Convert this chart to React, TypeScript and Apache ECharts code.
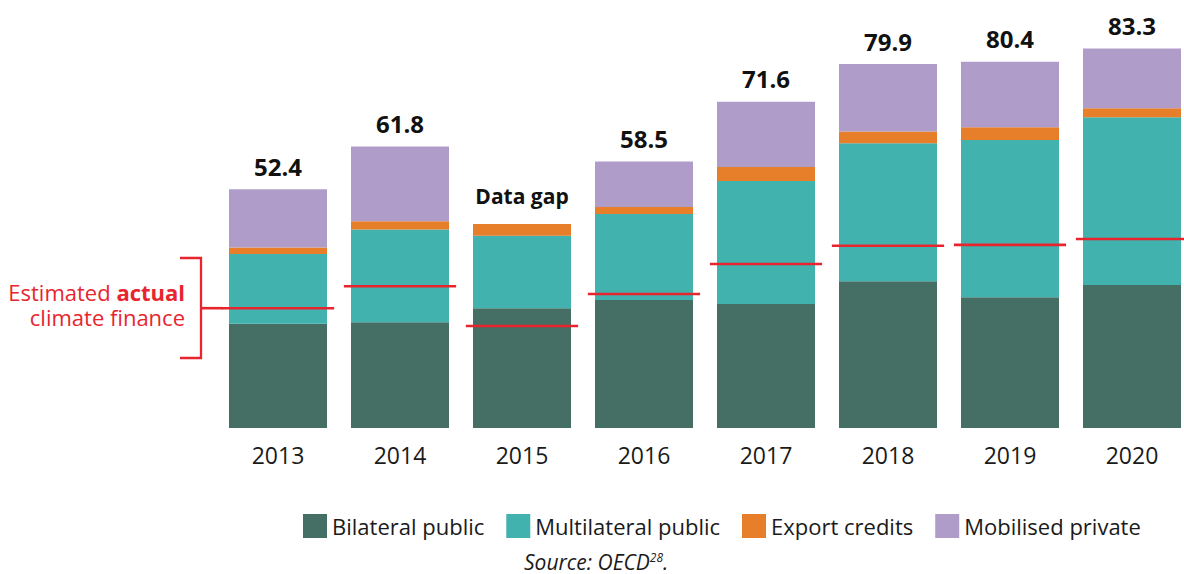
import React, { useEffect, useRef } from "react";
import * as echarts from "echarts";

const categories = ["2013", "2014", "2015", "2016", "2017", "2018", "2019", "2020"];
const bilateralPublic = [22.9, 23.2, 26.3, 28.1, 27.2, 32.2, 28.7, 31.4];
const multilateralPublic = [15.3, 20.4, 15.9, 18.9, 27.0, 30.3, 34.5, 36.8];
const exportCredits = [1.4, 1.8, 2.6, 1.5, 3.1, 2.6, 2.8, 2.0];
const mobilisedPrivate = [12.8, 16.4, null, 10.0, 14.3, 14.8, 14.4, 13.1];
const totals = [52.4, 61.8, null, 58.5, 71.6, 79.9, 80.4, 83.3];
const gapLabel = "Data gap";
const estimatedActual = [26.3, 31.1, 22.4, 29.4, 36.0, 40.0, 40.2, 41.5];

const FONT = "'Open Sans', 'Noto Sans', sans-serif";
const RED = "#e8252f";

export default function App() {
  const ref = useRef<HTMLDivElement>(null);

  useEffect(() => {
    if (!ref.current) return;
    const chart = echarts.init(ref.current, null, { renderer: "svg" });

    const stackTops = categories.map(
      (_, i) =>
        (bilateralPublic[i] || 0) +
        (multilateralPublic[i] || 0) +
        (exportCredits[i] || 0) +
        (mobilisedPrivate[i] || 0)
    );

    const barBase = {
      type: "bar",
      stack: "total",
      barWidth: 98,
      emphasis: { disabled: true },
    };

    chart.setOption({
      animation: false,
      textStyle: { fontFamily: FONT },
      grid: { left: 217, width: 976, top: 18, height: 410, outerBoundsMode: "none", containLabel: false },
      xAxis: {
        type: "category",
        data: categories,
        axisLine: { show: false },
        axisTick: { show: false },
        axisLabel: { fontSize: 23, color: "#1a1a1a", margin: 15, fontFamily: FONT },
      },
      yAxis: { type: "value", min: 0, max: 90, show: false, splitLine: { show: false } },
      legend: {
        left: 303,
        top: 514,
        padding: 0,
        itemWidth: 24,
        itemHeight: 24,
        itemGap: 22,
        icon: "rect",
        textStyle: { fontSize: 22, color: "#1a1a1a", fontFamily: FONT },
        data: ["Bilateral public", "Multilateral public", "Export credits", "Mobilised private"],
      },
      title: {
        text: "{a|Source: OECD}{b|28}{a|.}",
        left: 524,
        top: 551,
        padding: 0,
        textStyle: {
          fontWeight: "normal",
          rich: {
            a: { fontSize: 21, fontStyle: "italic", fontWeight: "normal", color: "#1a1a1a", fontFamily: FONT, lineHeight: 22 },
            b: { fontSize: 12, fontStyle: "italic", fontWeight: "normal", color: "#1a1a1a", fontFamily: FONT, verticalAlign: "top", lineHeight: 12 },
          },
        },
      },
      series: [
        { ...barBase, name: "Bilateral public", data: bilateralPublic, itemStyle: { color: "#456e64" } },
        { ...barBase, name: "Multilateral public", data: multilateralPublic, itemStyle: { color: "#41b2ae" } },
        { ...barBase, name: "Export credits", data: exportCredits, itemStyle: { color: "#e77e2a" } },
        { ...barBase, name: "Mobilised private", data: mobilisedPrivate, itemStyle: { color: "#af9cc9" } },
        {
          type: "custom",
          name: "actual",
          z: 10,
          data: estimatedActual.map((v, i) => [i, v]),
          renderItem: (params: any, api: any) => {
            const p = api.coord([api.value(0), api.value(1)]);
            const bw = api.size([1, 0])[0];
            const half = bw * 0.46;
            return {
              type: "line",
              shape: { x1: p[0] - half, y1: p[1], x2: p[0] + half, y2: p[1] },
              style: { stroke: RED, lineWidth: 2.6 },
            };
          },
        },
        {
          type: "custom",
          name: "totals",
          z: 10,
          data: stackTops.map((v, i) => [i, v]),
          renderItem: (params: any, api: any) => {
            const i = params.dataIndex;
            const p = api.coord([api.value(0), api.value(1)]);
            const isGap = totals[i] == null;
            const text = isGap ? gapLabel : totals[i]!.toFixed(1);
            return {
              type: "text",
              x: p[0],
              y: p[1] - (isGap ? 28 : 23),
              style: {
                text,
                textAlign: "center",
                textVerticalAlign: "middle",
                fontSize: isGap ? 21 : 24,
                fontWeight: "bold",
                fontFamily: FONT,
                fill: "#111111",
              },
            };
          },
        },
      ],
    });

    const yMid = chart.convertToPixel({ gridIndex: 0 } as any, [0, estimatedActual[0]]) as number[];
    const bw = 122;
    const y = yMid[1];
    chart.setOption({
      graphic: [
        {
          type: "polyline",
          shape: { points: [[180, 258], [201, 258], [201, 358], [180, 358]] },
          style: { stroke: RED, lineWidth: 2.3, fill: null },
        },
        {
          type: "line",
          shape: { x1: 201, y1: y, x2: yMid[0] - bw * 0.46 + 1, y2: y },
          style: { stroke: RED, lineWidth: 2.6 },
        },
        {
          type: "text",
          x: 185,
          y: 291.7,
          style: {
            text: "{a|Estimated }{b|actual}",
            textAlign: "right",
            textVerticalAlign: "middle",
            rich: {
              a: { fontSize: 22, fill: RED, fontFamily: FONT, lineHeight: 24 },
              b: { fontSize: 22, fill: RED, fontFamily: FONT, fontWeight: "bold", lineHeight: 24 },
            },
          },
        },
        {
          type: "text",
          x: 185,
          y: 317.3,
          style: {
            text: "climate finance",
            textAlign: "right",
            textVerticalAlign: "middle",
            fontSize: 22,
            fill: RED,
            fontFamily: FONT,
          },
        },
      ],
    });

    return () => chart.dispose();
  }, []);

  return (
    <div
      ref={ref}
      style={{ position: "fixed", left: 0, top: 0, width: 1184, height: 574, background: "#fff" }}
    />
  );
}
